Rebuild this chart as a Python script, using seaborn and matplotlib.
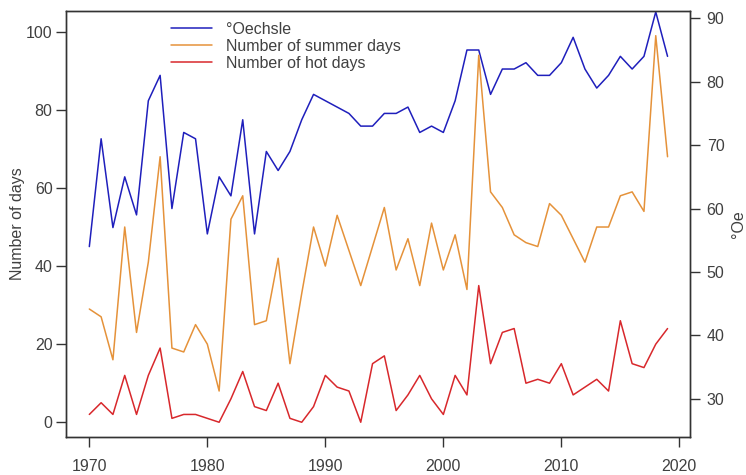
import matplotlib
matplotlib.use("Agg")
import matplotlib.pyplot as plt
import seaborn as sns
import pandas as pd

years = list(range(1970, 2020))
oechsle = [54, 71, 57, 65, 59, 77, 81, 60, 72, 71,
           56, 65, 62, 74, 56, 69, 66, 69, 74, 78,
           77, 76, 75, 73, 73, 75, 75, 76, 72, 73,
           72, 77, 85, 85, 78, 82, 82, 83, 81, 81,
           83, 87, 82, 79, 81, 84, 82, 84, 91, 84]
summer_days = [29, 27, 16, 50, 23, 41, 68, 19, 18, 25,
               20, 8, 52, 58, 25, 26, 42, 15, 33, 50,
               40, 53, 44, 35, 45, 55, 39, 47, 35, 51,
               39, 48, 34, 94, 59, 55, 48, 46, 45, 56,
               53, 47, 41, 50, 50, 58, 59, 54, 99, 68]
hot_days = [2, 5, 2, 12, 2, 12, 19, 1, 2, 2,
            1, 0, 6, 13, 4, 3, 10, 1, 0, 4,
            12, 9, 8, 0, 15, 17, 3, 7, 12, 6,
            2, 12, 7, 35, 15, 23, 24, 10, 11, 10,
            15, 7, 9, 11, 8, 26, 15, 14, 20, 24]

labels = ["°Oechsle", "Number of summer days", "Number of hot days"]
colors = ["#1f1fbc", "#e5923a", "#d8282c"]

df = pd.DataFrame({"year": years, "oe": oechsle,
                   "summer": summer_days, "hot": hot_days})

sns.set_theme(style="ticks")
plt.rcParams["font.family"] = ["Liberation Sans", "DejaVu Sans"]

fs = 11.5
fig = plt.figure(figsize=(7.46, 4.75), dpi=100)
ax = fig.add_axes([0.0881, 0.0794, 0.8368, 0.8981])
ax2 = ax.twinx()

sns.lineplot(data=df, x="year", y="summer", ax=ax, color=colors[1], lw=1.1, label=labels[1], legend=False)
sns.lineplot(data=df, x="year", y="hot", ax=ax, color=colors[2], lw=1.1, label=labels[2], legend=False)
sns.lineplot(data=df, x="year", y="oe", ax=ax2, color=colors[0], lw=1.1, label=labels[0], legend=False)

ax.set_xlim(1968.0, 2020.9)
ax.set_ylim(-3.85, 105.4)
ax2.set_ylim(23.93, 91.2)

ax.set_xticks([1970, 1980, 1990, 2000, 2010, 2020])
ax.set_yticks([0, 20, 40, 60, 80, 100])
ax2.set_yticks([30, 40, 50, 60, 70, 80, 90])

txt = "#404040"
for a in (ax, ax2):
    for s in a.spines.values():
        s.set_visible(True)
        s.set_color("#333333")
        s.set_linewidth(1.0)
ax.tick_params(axis="x", length=7, width=1, color="#333333", labelsize=fs, labelcolor=txt, pad=8.5)
ax.tick_params(axis="y", length=7, width=1, color="#333333", labelsize=fs, labelcolor=txt, pad=2.5)
ax2.tick_params(axis="y", length=7, width=1, color="#333333", labelsize=fs, labelcolor=txt, pad=5)

ax.set_xlabel("")
ax.set_ylabel("Number of days", fontsize=fs, color=txt, labelpad=1)
ax2.set_ylabel("°Oe", fontsize=fs, color=txt, rotation=90, labelpad=5)

h1, l1 = ax.get_legend_handles_labels()
h2, l2 = ax2.get_legend_handles_labels()
leg = ax.legend(h2 + h1, l2 + l1, loc="upper left", bbox_to_anchor=(0.15, 1.0),
                frameon=False, fontsize=fs, handlelength=2.6, handletextpad=0.9,
                labelspacing=0.13, borderaxespad=0.3)
for t in leg.get_texts():
    t.set_color(txt)
ax.set_zorder(ax2.get_zorder() + 1)
ax.patch.set_visible(False)

fig.savefig("out.png", dpi=100)
